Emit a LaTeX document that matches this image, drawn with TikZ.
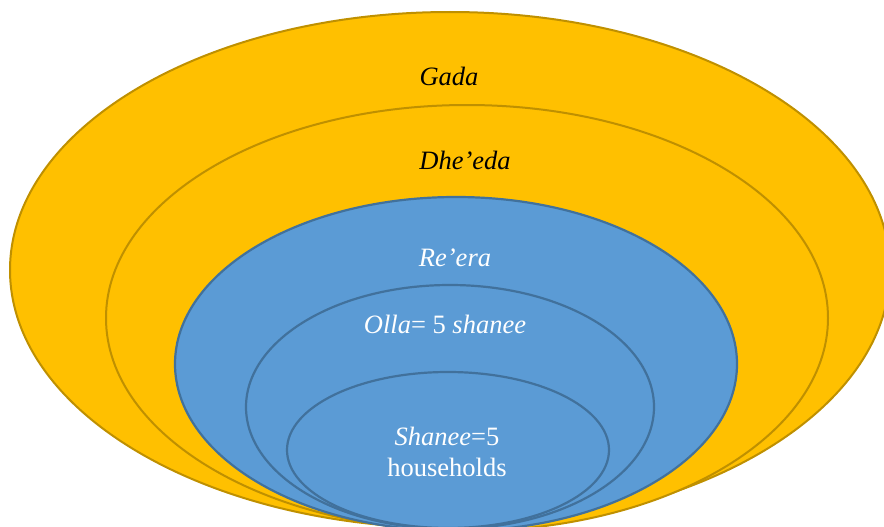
\documentclass[tikz,border=0pt]{standalone}
\usepackage{fontspec}
\setmainfont{Liberation Serif}
\usetikzlibrary{shapes.geometric}
\definecolor{gold}{HTML}{FFC000}
\definecolor{goldline}{HTML}{BF9000}
\definecolor{sky}{HTML}{5B9BD5}
\definecolor{skyline}{HTML}{41719C}
\begin{document}
\begin{tikzpicture}[x=1pt,y=-1pt,
  ring/.style={ellipse, inner sep=0pt, line width=2pt},
  goldring/.style={ring, fill=gold, draw=goldline},
  bluering/.style={ring, fill=sky, draw=skyline, line width=2.2pt},
  lbl/.style={font=\fontsize{26.5}{30}\selectfont, inner sep=0pt, anchor=base}]
\useasboundingbox (0,0) rectangle (884,527);
\clip (0,0) rectangle (884,527);
% nested levels, outermost first
\node[goldring, minimum width=880pt, minimum height=516pt] (gada)   at (450,270) {};
\node[goldring, minimum width=722pt, minimum height=426pt] (dheeda) at (467,318) {};
\node[bluering, minimum width=562pt, minimum height=334pt] (reera)  at (456,364) {};
\node[bluering, minimum width=408pt, minimum height=244pt] (olla)   at (450,407) {};
\node[bluering, minimum width=322pt, minimum height=156pt] (shanee) at (448,450) {};
% level names
\node[lbl] (tgada)   at (449,85)  {\textit{Gada}};
\node[lbl] (tdheeda) at (465,169) {\textit{Dhe’eda}};
\node[lbl, text=white] (treera)  at (455,266) {\textit{Re’era}};
\node[lbl, text=white] (tolla)   at (445,333) {\textit{Olla}= 5 \textit{shanee}};
\node[lbl, text=white] (tshanee) at (447,445) {\textit{Shanee}=5};
\node[lbl, text=white] (thouse)  at (447,476) {households};
\end{tikzpicture}
\end{document}
